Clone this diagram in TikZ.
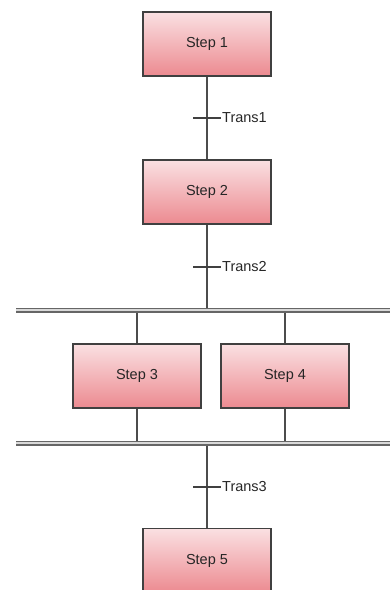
\documentclass[tikz,border=0pt]{standalone}
\usepackage{fontspec}
\setmainfont{Liberation Sans}
\definecolor{steptop}{RGB}{250,224,226}
\definecolor{stepbottom}{RGB}{236,138,144}
\begin{document}
\begin{tikzpicture}[x=1pt,y=-1pt,
  stepbox/.style={draw=black!75, line width=1.1pt, minimum width=128pt, minimum height=64pt,
    top color=steptop, bottom color=stepbottom, inner sep=0pt,
    font=\fontsize{14.5}{16}\selectfont, text=black!85},
  wire/.style={draw=black!70, line width=1.2pt},
  bar/.style={draw=black!60, line width=5pt},
  barcore/.style={draw=black!15, line width=2pt},
  tick/.style={draw=black!75, line width=1.1pt},
  translabel/.style={anchor=west, inner sep=1pt, font=\fontsize{14.5}{16}\selectfont, text=black!85}]
  \useasboundingbox (0,0) rectangle (389,590);

  % steps
  \node[stepbox] (s1) at (207,44) {Step 1};
  \node[stepbox] (s2) at (207,192) {Step 2};
  \node[stepbox] (s3) at (137,376) {Step 3};
  \node[stepbox] (s4) at (285,376) {Step 4};
  \node[stepbox, anchor=north] (s5) at (207,528) {Step 5};

  % parallel branch bars
  \coordinate (b1l) at (16,310); \coordinate (b1r) at (392,310);
  \coordinate (b2l) at (16,443); \coordinate (b2r) at (392,443);
  \draw[bar] (b1l) -- (b1r); \draw[barcore] (b1l) -- (b1r);
  \draw[bar] (b2l) -- (b2r); \draw[barcore] (b2l) -- (b2r);

  % transition points
  \coordinate (t1) at (207,118);
  \coordinate (t2) at (207,267);
  \coordinate (t3) at (207,487);
  \coordinate (j1) at (207,307.5);
  \coordinate (j2) at (207,445.5);

  % vertical links
  \draw[wire] (s1.south) -- (s2.north);
  \draw[wire] (s2.south) -- (j1);
  \draw[wire] (s3.north |- 0,312.5) -- (s3.north);
  \draw[wire] (s4.north |- 0,312.5) -- (s4.north);
  \draw[wire] (s3.south) -- (s3.south |- 0,440.5);
  \draw[wire] (s4.south) -- (s4.south |- 0,440.5);
  \draw[wire] (j2) -- (s5.north);

  % transition ticks and labels
  \foreach \t/\lab in {t1/Trans1, t2/Trans2, t3/Trans3}{
    \draw[tick] ([xshift=-14pt]\t) -- ([xshift=14pt]\t);
    \node[translabel] (l\t) at ([xshift=14pt]\t) {\lab};
  }
\end{tikzpicture}
\end{document}
